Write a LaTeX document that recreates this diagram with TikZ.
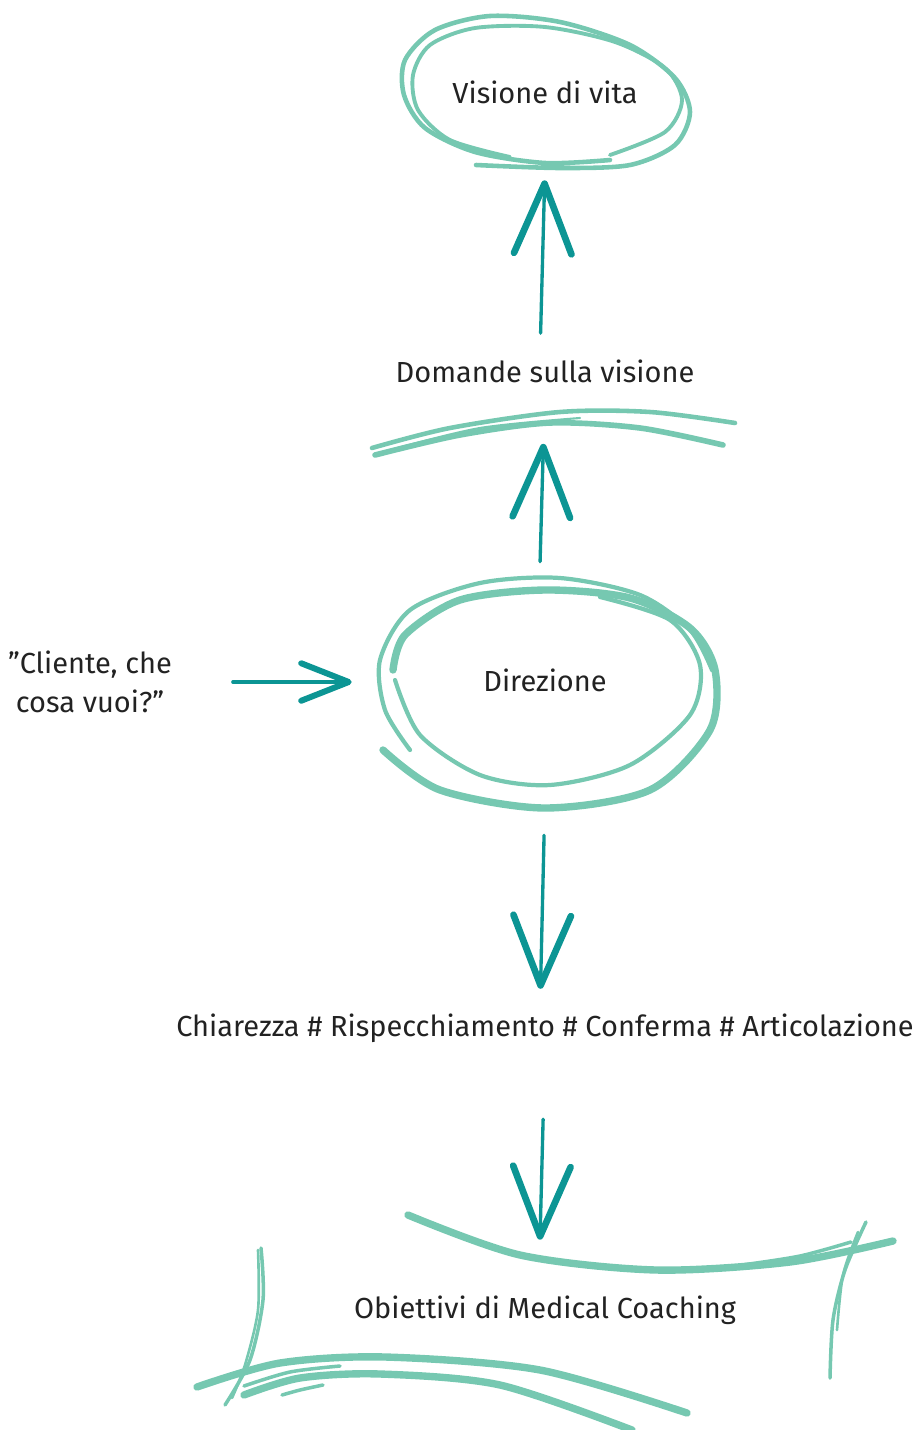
\documentclass[tikz,border=0pt]{standalone}
\usepackage{fontspec}
\setmainfont{Fira Sans}
\usetikzlibrary{arrows.meta,positioning,shapes.geometric}
\definecolor{sketchgreen}{HTML}{76C8B1}
\definecolor{arrowteal}{HTML}{0C9594}
\definecolor{inkgrey}{HTML}{222222}
\tikzset{
  txt/.style={font=\fontsize{16.5}{22.5}\selectfont, text=inkgrey,
              align=center, inner sep=2pt},
  ringbox/.style={ellipse, draw=none, inner sep=0pt},
  sk/.style={draw=sketchgreen, line width=#1, line cap=round,
             line join=round},
  sk/.default=2.6pt,
  flow/.style={-{Straight Barb[round,length=1.4cm,width=1.15cm,line width=3.8pt]},
               draw=arrowteal, line width=1.9pt, line cap=round},
  flowsmall/.style={-{Straight Barb[round,length=0.95cm,width=0.75cm,line width=3.4pt]},
               draw=arrowteal, line width=1.9pt, line cap=round},
}

\begin{document}
\begin{tikzpicture}[x=0.02cm, y=-0.02cm]
\useasboundingbox (0,0) rectangle (920,1430);

% ------------------------- nodes ----------------------------------------
\node[txt, ringbox, minimum width=5.6cm, minimum height=3cm] at (545,92) (visione)
   {Visione di vita};
\node[txt] at (545,371) (domande) {Domande sulla visione};
\node[txt, ringbox, minimum width=6.8cm, minimum height=4.6cm] at (545,680) (direzione)
   {Direzione};
\node[txt] at (90,682) (cliente) {"Cliente, che\\cosa vuoi?"};
\node[txt] at (545,1028) (chiarezza)
   {Chiarezza \# Rispecchiamento \# Conferma \# Articolazione};
\node[txt, minimum height=2.8cm] at (545,1310) (obiettivi)
   {Obiettivi di Medical Coaching};

% ------------------------- sketch strokes -------------------------------
\draw[sk] plot[smooth] coordinates {(476,165) (560,168) (630,165) (675,145)
   (690,112) (675,78) (630,45) (560,22) (490,16) (435,30) (405,60) (404,95)
   (425,128) (475,152) (545,163) (610,160)};
\draw[sk=2.2pt] plot[smooth] coordinates {(610,155) (665,132) (682,100)
   (665,68) (615,42) (545,27) (475,28) (430,45) (413,75) (418,110) (450,140)
   (510,157)};

\draw[sk] plot[smooth] coordinates {(372,448) (450,428) (560,412) (650,412) (735,423)};
\draw[sk=3.2pt] plot[smooth] coordinates {(375,455) (460,435) (550,423) (640,428) (723,445)};
\draw[sk=1.2pt] plot[smooth] coordinates {(390,450) (480,428) (580,418)};

\draw[sk=2.4pt] plot[smooth] coordinates {(410,750) (385,710) (380,660) (410,610)
   (480,583) (560,578) (640,595) (690,630) (712,670)};
\draw[sk=4.2pt] plot[smooth] coordinates {(383,750) (440,790) (545,808) (650,790)
   (710,730) (715,670) (690,628) (630,598) (545,590) (460,600) (405,635) (393,670)};
\draw[sk=2.4pt] plot[smooth] coordinates {(395,680) (420,735) (480,775) (550,785)
   (630,765) (690,715) (700,665) (670,620) (600,597)};

\draw[sk=4.2pt] plot[smooth] coordinates {(408,1215) (520,1255) (656,1270) (790,1262) (893,1241)};
\draw[sk=2pt] plot[smooth] coordinates {(742,1265) (800,1256) (851,1242)};
\draw[sk=2pt] plot[smooth] coordinates {(866,1222) (845,1270) (833,1320) (830,1378)};
\draw[sk=1.5pt] plot[smooth] coordinates {(858,1232) (843,1275) (837,1330)};
\draw[sk=2pt] plot[smooth] coordinates {(261,1248) (263,1300) (250,1360) (225,1405)};
\draw[sk=1.5pt] plot[smooth] coordinates {(258,1250) (258,1310) (245,1365) (232,1398)};
\draw[sk=4.2pt] plot[smooth] coordinates {(197,1387) (280,1363) (385,1357) (540,1370) (687,1413)};
\draw[sk=4.2pt] plot[smooth] coordinates {(244,1395) (300,1378) (380,1374) (500,1385) (632,1430)};
\draw[sk=2pt] plot[smooth] coordinates {(244,1386) (290,1372) (340,1366)};
\draw[sk=2pt] plot[smooth] coordinates {(282,1395) (300,1390) (323,1385)};

% ------------------------- arrows ---------------------------------------
\draw[flow, shorten <=0.45cm, shorten >=0.26cm]
   ([xshift=-0.1cm]domande.north) -- (visione.south);
\draw[flow, shorten <=0.06cm, shorten >=1.15cm]
   ([xshift=-0.1cm]direzione.north) -- (domande.south);
\draw[flowsmall, shorten <=1.14cm, shorten >=0.46cm]
   (cliente.east) -- (cliente.east -| direzione.west);
\draw[flow, shorten <=0.8cm, shorten >=0.42cm]
   (direzione.south) -- ([xshift=-0.1cm]chiarezza.north);
\draw[flow, shorten <=1.46cm]
   (chiarezza.south) -- ([xshift=-0.1cm]obiettivi.north);
\end{tikzpicture}
\end{document}
